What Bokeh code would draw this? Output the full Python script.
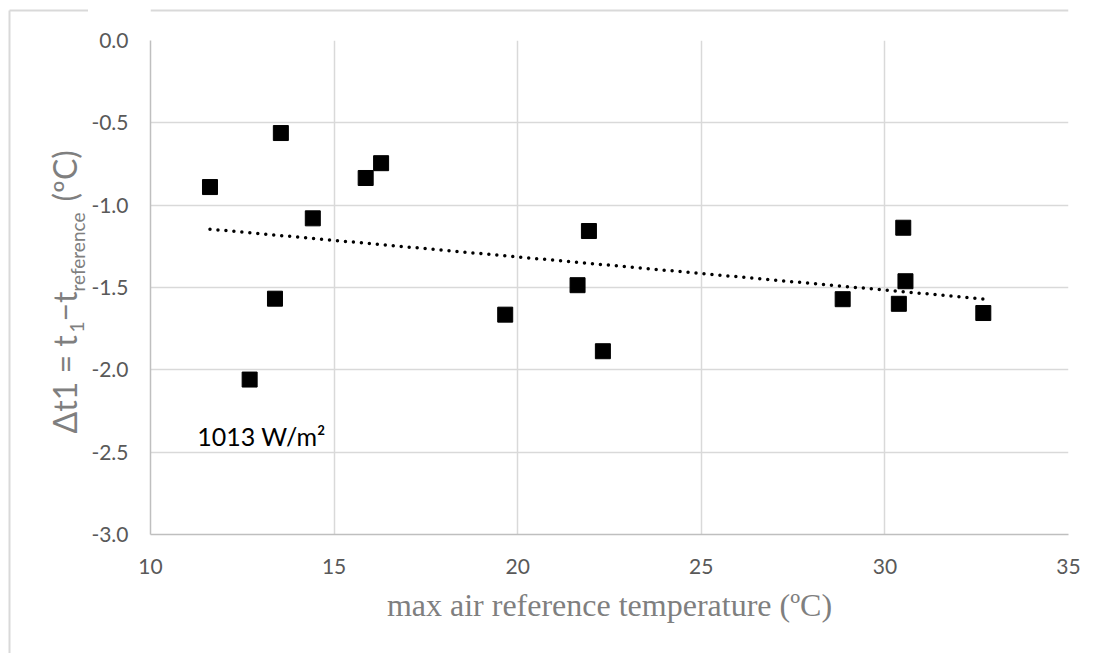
import math
import numpy as np
from bokeh.plotting import figure
from bokeh.models import Range1d, FixedTicker, Label
from bokeh.layouts import row, column
from bokeh.core.properties import value
from bokeh.embed import file_html
from bokeh.resources import INLINE

# ---- data ----
max_air_temp = [11.62, 12.70, 13.39, 13.55, 14.42, 15.86, 16.28, 19.66,
                21.63, 21.94, 22.32, 28.85, 30.38, 30.50, 30.56, 32.68]
delta_t1 = [-0.890, -2.059, -1.568, -0.562, -1.080, -0.835, -0.745, -1.665,
            -1.486, -1.157, -1.887, -1.571, -1.599, -1.137, -1.462, -1.655]
x_ticks = [10, 15, 20, 25, 30, 35]
x_tick_labels = ["10", "15", "20", "25", "30", "35"]
y_ticks = [-3.0, -2.5, -2.0, -1.5, -1.0, -0.5, 0.0]
y_tick_labels = ["-3.0", "-2.5", "-2.0", "-1.5", "-1.0", "-0.5", "0.0"]
annotation_text = "1013 W/m\u00b2"
x_title = "max air reference temperature (\u00baC)"
y_title_parts = ["\u0394t1 = t", "1", "\u2212t", "reference", "(\u00baC)"]

W, H = 1100, 653
LEFT_W = 88          # strip holding the y-axis title
TOP_H = 20           # strip above the main figure (outer border)
FRAME_TOP = 40       # canvas y of the plot frame's top edge
BORDER = "#d9d9d9"

# ---------- left strip: y title + outer border ----------
lf = figure(width=LEFT_W, height=H, x_range=Range1d(0, LEFT_W), y_range=Range1d(0, H),
            x_axis_type=None, y_axis_type=None, min_border=0,
            output_backend="svg", toolbar_location=None)
lf.outline_line_color = None
lf.grid.visible = False
lf.line([9, 9], [0, H - 10], line_color=BORDER, line_width=2)
lf.line([9, LEFT_W], [H - 10, H - 10], line_color=BORDER, line_width=2)

# canvas-pixel positions (centre lines) of each piece of the rotated title
px_main, px_sub = 64.4, 76.7
starts = [433, 332, 321, 291, 201]
xs_ = [px_main, px_sub, px_main, px_sub, px_main]
sizes = ["32px", "19px", "32px", "19px", "32px"]
lf.text(x=xs_, y=[H - s for s in starts], text=y_title_parts,
        text_font=value("Lato"), text_font_size=sizes, text_color="#7f7f7f",
        angle=math.pi / 2, text_align="left", text_baseline="middle")

# ---------- top strip: outer border ----------
tf = figure(width=W - LEFT_W, height=TOP_H, x_range=Range1d(0, W - LEFT_W),
            y_range=Range1d(0, TOP_H), x_axis_type=None, y_axis_type=None,
            min_border=0, output_backend="svg", toolbar_location=None)
tf.outline_line_color = None
tf.grid.visible = False
tf.line([0, W - LEFT_W], [TOP_H - 10, TOP_H - 10], line_color=BORDER, line_width=2)

# ---------- main chart ----------
p = figure(width=W - LEFT_W, height=H - TOP_H, output_backend="svg", toolbar_location=None,
           x_range=Range1d(10, 35), y_range=Range1d(-3, 0),
           min_border_left=150 - LEFT_W, min_border_right=32,
           min_border_top=FRAME_TOP - TOP_H, min_border_bottom=119)
p.background_fill_color = "white"
p.border_fill_color = "white"
p.outline_line_color = None

for ax in (p.xaxis[0], p.yaxis[0]):
    ax.axis_line_color = "#bfbfbf"
    ax.axis_line_width = 1.5
    ax.major_tick_line_color = None
    ax.minor_tick_line_color = None
    ax.major_tick_out = 0
    ax.major_tick_in = 0
    ax.minor_tick_out = 0
    ax.minor_tick_in = 0
    ax.major_label_text_font = "Lato"
    ax.major_label_text_font_size = "21px"
    ax.major_label_text_color = "#595959"

p.xaxis[0].ticker = FixedTicker(ticks=x_ticks)
p.xaxis[0].major_label_overrides = dict(zip(x_ticks, x_tick_labels))
p.xaxis[0].major_label_standoff = 24
p.xaxis[0].axis_label = x_title
p.xaxis[0].axis_label_text_font = "Liberation Serif"
p.xaxis[0].axis_label_text_font_size = "32px"
p.xaxis[0].axis_label_text_font_style = "normal"
p.xaxis[0].axis_label_text_color = "#7f7f7f"
p.xaxis[0].axis_label_standoff = 10

p.yaxis[0].ticker = FixedTicker(ticks=y_ticks)
p.yaxis[0].major_label_overrides = dict(zip(y_ticks, y_tick_labels))
p.yaxis[0].major_label_standoff = 22

p.xgrid.grid_line_color = "#d9d9d9"
p.ygrid.grid_line_color = "#d9d9d9"
p.xgrid.grid_line_width = 1.5
p.ygrid.grid_line_width = 1.5

# linear trendline (least squares, like the spreadsheet trendline)
slope, intercept = np.polyfit(max_air_temp, delta_t1, 1)
tx = [min(max_air_temp), max(max_air_temp)]
ty = [slope * v + intercept for v in tx]
p.line(tx, ty, line_color="black", line_width=3.5, line_dash="0 8", line_cap="round")

p.scatter(max_air_temp, delta_t1, marker="square", size=15,
          fill_color="black", line_color="black")

p.add_layout(Label(x=11.27, y=-2.403, text=annotation_text, text_font="Lato",
                   text_font_size="25px", text_color="black",
                   text_align="left", text_baseline="alphabetic"))

layout = row(lf, column(tf, p))
open("out.html", "w").write(file_html(layout, INLINE))
